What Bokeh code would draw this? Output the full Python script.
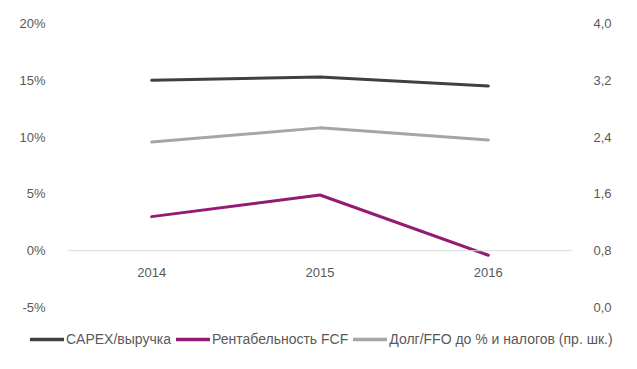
from bokeh.plotting import figure
from bokeh.layouts import column
from bokeh.models import (Range1d, LinearAxis, FixedTicker, Span, Legend, LegendItem,
                          CustomJSTickFormatter)
from bokeh.core.properties import value
from bokeh.embed import file_html
from bokeh.resources import INLINE

years = ["2014", "2015", "2016"]
capex = [15.0, 15.3, 14.5]          # CAPEX/выручка, %
fcf = [3.0, 4.9, -0.4]              # Рентабельность FCF, %
debt_ffo = [2.33, 2.53, 2.36]       # Долг/FFO (right axis)

left_ticks = [-5, 0, 5, 10, 15, 20]
left_labels = ["-5%", "0%", "5%", "10%", "15%", "20%"]
right_ticks = [0.0, 0.8, 1.6, 2.4, 3.2, 4.0]
right_labels = ["0,0", "0,8", "1,6", "2,4", "3,2", "4,0"]

names = ["CAPEX/выручка", "Рентабельность FCF", "Долг/FFO до % и налогов (пр. шк.)"]
colors = ["#404040", "#951B72", "#A6A6A6"]

FONT = "Liberation Sans"
TXT = "#595959"

p = figure(width=621, height=320, x_range=years, y_range=Range1d(-5, 20),
           output_backend="svg", toolbar_location=None, x_axis_location=None,
           min_border_left=67, min_border_right=49, min_border_top=23, min_border_bottom=13)
p.outline_line_color = None
p.xgrid.visible = False
p.ygrid.visible = False

fmt_js = """
let best = 0, d = 1e9;
for (let i = 0; i < tv.length; i++) {
  const dd = Math.abs(tv[i] - tick);
  if (dd < d) { d = dd; best = i; }
}
return tl[best];
"""

yl = p.yaxis[0]
yl.ticker = FixedTicker(ticks=left_ticks)
yl.formatter = CustomJSTickFormatter(args=dict(tv=left_ticks, tl=left_labels), code=fmt_js)

p.extra_y_ranges = {"r": Range1d(0, 4)}
yr = LinearAxis(y_range_name="r", ticker=FixedTicker(ticks=right_ticks),
                formatter=CustomJSTickFormatter(args=dict(tv=right_ticks, tl=right_labels), code=fmt_js))
p.add_layout(yr, "right")

for ax in (yl, yr):
    ax.axis_line_color = None
    ax.major_tick_line_color = None
    ax.minor_tick_line_color = None
    ax.major_label_text_font = FONT
    ax.major_label_text_font_size = "13px"
    ax.major_label_text_color = TXT
yl.major_label_standoff = 16
yr.major_label_standoff = 15

p.add_layout(Span(location=0, dimension="width", line_color="#D9D9D9", line_width=1))

r1 = p.line(years, capex, line_color=colors[0], line_width=3, line_cap="round", line_join="round")
r2 = p.line(years, fcf, line_color=colors[1], line_width=3, line_cap="round", line_join="round")
r3 = p.line(years, debt_ffo, y_range_name="r", line_color=colors[2], line_width=3,
            line_cap="round", line_join="round")

p.text(x=years, y=[0] * len(years), text=years, y_offset=22, text_align="center",
       text_baseline="middle", text_font=value(FONT), text_font_size="13px", text_color=TXT)

# legend strip below the chart
lg = figure(width=621, height=38, x_range=Range1d(0, 1), y_range=Range1d(0, 1),
            output_backend="svg", toolbar_location=None, x_axis_location=None,
            y_axis_location=None, min_border=0)
lg.frame_align = False
lg.outline_line_color = None
lg.xgrid.visible = False
lg.ygrid.visible = False
nan = float("nan")
lr = [lg.line([nan], [nan], line_color=c, line_width=3.5, line_cap="round") for c in colors]

legend = Legend(items=[LegendItem(label=n, renderers=[r]) for n, r in zip(names, lr)],
                orientation="horizontal", location=(30, 9), border_line_color=None,
                background_fill_alpha=0, padding=0, margin=0, spacing=5, label_standoff=2,
                glyph_width=34, glyph_height=20, label_height=20,
                label_text_font=FONT, label_text_font_size="14px", label_text_color=TXT)
lg.add_layout(legend, "center")

layout = column(p, lg, spacing=0)
open("out.html", "w").write(file_html(layout, INLINE))
